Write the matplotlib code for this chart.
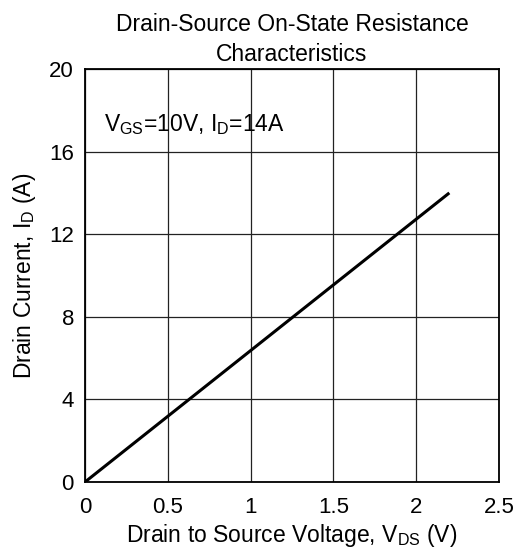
import numpy as np
import matplotlib
matplotlib.use("Agg")
import matplotlib.pyplot as plt

plt.rcParams['font.family'] = ['Liberation Sans', 'DejaVu Sans']
plt.rcParams['mathtext.fontset'] = 'custom'
plt.rcParams['mathtext.rm'] = 'Liberation Sans'

# data
vds = [0.0, 2.2]
i_d = [0.0, 14.0]
x_ticks = [0, 0.5, 1, 1.5, 2, 2.5]
x_labels = ["0", "0.5", "1", "1.5", "2", "2.5"]
y_ticks = [0, 4, 8, 12, 16, 20]

fig = plt.figure(figsize=(5.15, 5.53), dpi=100)
ax = fig.add_axes([85 / 515, 1 - 482 / 553, 414 / 515, 413 / 553])

ax.plot(vds, i_d, color="black", linewidth=2.2, solid_capstyle="butt")

ax.set_xlim(0, 2.5)
ax.set_ylim(0, 20)
ax.set_xticks(x_ticks)
ax.set_xticklabels(x_labels)
ax.set_yticks(y_ticks)
ax.tick_params(axis="x", length=0, labelsize=16, pad=11)
ax.tick_params(axis="y", length=0, labelsize=16, pad=8)
ax.grid(True, color="#222222", linewidth=0.9)
for s in ax.spines.values():
    s.set_linewidth(1.3)

ax.set_xlabel(r"Drain to Source Voltage, $\mathrm{V_{DS}}$ (V)", fontsize=16.5, labelpad=3)
ax.set_ylabel(r"Drain Current, $\mathrm{I_{D}}$ (A)", fontsize=16.5, labelpad=8)
ax.set_title("Drain-Source On-State Resistance\nCharacteristics", fontsize=16.5, pad=6, linespacing=1.35)

ax.text(0.045, 0.865, r"$\mathrm{V_{GS}}$=10V, $\mathrm{I_{D}}$=14A", transform=ax.transAxes,
        fontsize=16.5, va="center", ha="left")

fig.savefig("out.png", dpi=100)
